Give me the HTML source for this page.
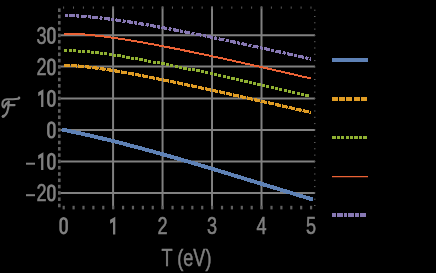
<!DOCTYPE html>
<html><head><meta charset="utf-8"><style>
html,body{margin:0;padding:0;background:#000;}
svg{display:block;}
.txt{will-change:transform;}
text{font-family:"Liberation Sans",sans-serif;font-size:23.5px;fill:#808080;stroke:#808080;stroke-width:0.55px;}
</style></head><body>
<svg width="436" height="273" viewBox="0 0 436 273">
<rect width="436" height="273" fill="#000"/>
<g stroke="#808080" stroke-width="2"><line x1="113.08" y1="6.5" x2="113.08" y2="209" /><line x1="162.55" y1="6.5" x2="162.55" y2="209" /><line x1="212.03" y1="6.5" x2="212.03" y2="209" /><line x1="261.50" y1="6.5" x2="261.50" y2="209" /><line x1="60.2" y1="192.90" x2="315" y2="192.90" /><line x1="60.2" y1="161.40" x2="315" y2="161.40" /><line x1="60.2" y1="129.90" x2="315" y2="129.90" /><line x1="60.2" y1="98.40" x2="315" y2="98.40" /><line x1="60.2" y1="66.50" x2="315" y2="66.50" /><line x1="60.2" y1="35.30" x2="315" y2="35.30" /></g>
<g fill="#5e5e5e"><rect x="62.60" y="205.8" width="2.2" height="3.6" /><rect x="72.50" y="205.8" width="2.2" height="3.6" /><rect x="82.39" y="205.8" width="2.2" height="3.6" /><rect x="92.29" y="205.8" width="2.2" height="3.6" /><rect x="102.18" y="205.8" width="2.2" height="3.6" /><rect x="112.08" y="205.8" width="2.2" height="3.6" /><rect x="121.97" y="205.8" width="2.2" height="3.6" /><rect x="131.87" y="205.8" width="2.2" height="3.6" /><rect x="141.76" y="205.8" width="2.2" height="3.6" /><rect x="151.66" y="205.8" width="2.2" height="3.6" /><rect x="161.55" y="205.8" width="2.2" height="3.6" /><rect x="171.45" y="205.8" width="2.2" height="3.6" /><rect x="181.34" y="205.8" width="2.2" height="3.6" /><rect x="191.24" y="205.8" width="2.2" height="3.6" /><rect x="201.13" y="205.8" width="2.2" height="3.6" /><rect x="211.03" y="205.8" width="2.2" height="3.6" /><rect x="220.92" y="205.8" width="2.2" height="3.6" /><rect x="230.82" y="205.8" width="2.2" height="3.6" /><rect x="240.71" y="205.8" width="2.2" height="3.6" /><rect x="250.61" y="205.8" width="2.2" height="3.6" /><rect x="260.50" y="205.8" width="2.2" height="3.6" /><rect x="270.40" y="205.8" width="2.2" height="3.6" /><rect x="280.29" y="205.8" width="2.2" height="3.6" /><rect x="290.19" y="205.8" width="2.2" height="3.6" /><rect x="300.08" y="205.8" width="2.2" height="3.6" /><rect x="309.98" y="205.8" width="2.2" height="3.6" /><rect x="58" y="203.70" width="2.6" height="3.6" /><rect x="58" y="197.40" width="2.6" height="3.6" /><rect x="58" y="191.10" width="2.6" height="3.6" /><rect x="58" y="184.80" width="2.6" height="3.6" /><rect x="58" y="178.50" width="2.6" height="3.6" /><rect x="58" y="172.20" width="2.6" height="3.6" /><rect x="58" y="165.90" width="2.6" height="3.6" /><rect x="58" y="159.60" width="2.6" height="3.6" /><rect x="58" y="153.30" width="2.6" height="3.6" /><rect x="58" y="147.00" width="2.6" height="3.6" /><rect x="58" y="140.70" width="2.6" height="3.6" /><rect x="58" y="134.40" width="2.6" height="3.6" /><rect x="58" y="128.10" width="2.6" height="3.6" /><rect x="58" y="121.80" width="2.6" height="3.6" /><rect x="58" y="115.50" width="2.6" height="3.6" /><rect x="58" y="109.20" width="2.6" height="3.6" /><rect x="58" y="102.90" width="2.6" height="3.6" /><rect x="58" y="96.60" width="2.6" height="3.6" /><rect x="58" y="90.30" width="2.6" height="3.6" /><rect x="58" y="84.00" width="2.6" height="3.6" /><rect x="58" y="77.70" width="2.6" height="3.6" /><rect x="58" y="71.40" width="2.6" height="3.6" /><rect x="58" y="65.10" width="2.6" height="3.6" /><rect x="58" y="58.80" width="2.6" height="3.6" /><rect x="58" y="52.50" width="2.6" height="3.6" /><rect x="58" y="46.20" width="2.6" height="3.6" /><rect x="58" y="39.90" width="2.6" height="3.6" /><rect x="58" y="33.60" width="2.6" height="3.6" /><rect x="58" y="27.30" width="2.6" height="3.6" /><rect x="58" y="21.00" width="2.6" height="3.6" /><rect x="58" y="14.70" width="2.6" height="3.6" /><rect x="58" y="8.40" width="2.6" height="3.6" /></g>
<g fill="#5a5a5a"><rect x="63.10" y="6.5" width="1" height="2.2" /><rect x="73.00" y="6.5" width="1" height="2.2" /><rect x="82.89" y="6.5" width="1" height="2.2" /><rect x="92.79" y="6.5" width="1" height="2.2" /><rect x="102.68" y="6.5" width="1" height="2.2" /><rect x="112.58" y="6.5" width="1" height="2.2" /><rect x="122.47" y="6.5" width="1" height="2.2" /><rect x="132.37" y="6.5" width="1" height="2.2" /><rect x="142.26" y="6.5" width="1" height="2.2" /><rect x="152.16" y="6.5" width="1" height="2.2" /><rect x="162.05" y="6.5" width="1" height="2.2" /><rect x="171.95" y="6.5" width="1" height="2.2" /><rect x="181.84" y="6.5" width="1" height="2.2" /><rect x="191.74" y="6.5" width="1" height="2.2" /><rect x="201.63" y="6.5" width="1" height="2.2" /><rect x="211.53" y="6.5" width="1" height="2.2" /><rect x="221.42" y="6.5" width="1" height="2.2" /><rect x="231.32" y="6.5" width="1" height="2.2" /><rect x="241.21" y="6.5" width="1" height="2.2" /><rect x="251.11" y="6.5" width="1" height="2.2" /><rect x="261.00" y="6.5" width="1" height="2.2" /><rect x="270.90" y="6.5" width="1" height="2.2" /><rect x="280.79" y="6.5" width="1" height="2.2" /><rect x="290.69" y="6.5" width="1" height="2.2" /><rect x="300.58" y="6.5" width="1" height="2.2" /><rect x="310.48" y="6.5" width="1" height="2.2" /><rect x="314" y="205.00" width="1.5" height="1" /><rect x="314" y="198.70" width="1.5" height="1" /><rect x="314" y="192.40" width="1.5" height="1" /><rect x="314" y="186.10" width="1.5" height="1" /><rect x="314" y="179.80" width="1.5" height="1" /><rect x="314" y="173.50" width="1.5" height="1" /><rect x="314" y="167.20" width="1.5" height="1" /><rect x="314" y="160.90" width="1.5" height="1" /><rect x="314" y="154.60" width="1.5" height="1" /><rect x="314" y="148.30" width="1.5" height="1" /><rect x="314" y="142.00" width="1.5" height="1" /><rect x="314" y="135.70" width="1.5" height="1" /><rect x="314" y="129.40" width="1.5" height="1" /><rect x="314" y="123.10" width="1.5" height="1" /><rect x="314" y="116.80" width="1.5" height="1" /><rect x="314" y="110.50" width="1.5" height="1" /><rect x="314" y="104.20" width="1.5" height="1" /><rect x="314" y="97.90" width="1.5" height="1" /><rect x="314" y="91.60" width="1.5" height="1" /><rect x="314" y="85.30" width="1.5" height="1" /><rect x="314" y="79.00" width="1.5" height="1" /><rect x="314" y="72.70" width="1.5" height="1" /><rect x="314" y="66.40" width="1.5" height="1" /><rect x="314" y="60.10" width="1.5" height="1" /><rect x="314" y="53.80" width="1.5" height="1" /><rect x="314" y="47.50" width="1.5" height="1" /><rect x="314" y="41.20" width="1.5" height="1" /><rect x="314" y="34.90" width="1.5" height="1" /><rect x="314" y="28.60" width="1.5" height="1" /><rect x="314" y="22.30" width="1.5" height="1" /><rect x="314" y="16.00" width="1.5" height="1" /><rect x="314" y="9.70" width="1.5" height="1" /></g>
<g fill="none">
<path d="M63.60,15.53 L64.84,15.54 L66.07,15.55 L67.31,15.57 L68.55,15.59 L69.78,15.62 L71.02,15.66 L72.26,15.70 L73.50,15.75 L74.73,15.81 L75.97,15.87 L77.21,15.93 L78.44,16.00 L79.68,16.08 L80.92,16.16 L82.15,16.25 L83.39,16.34 L84.63,16.43 L85.86,16.53 L87.10,16.63 L88.34,16.74 L89.57,16.85 L90.81,16.96 L92.05,17.08 L93.29,17.20 L94.52,17.33 L95.76,17.45 L97.00,17.59 L98.23,17.72 L99.47,17.86 L100.71,18.00 L101.94,18.14 L103.18,18.29 L104.42,18.44 L105.65,18.59 L106.89,18.74 L108.13,18.90 L109.36,19.06 L110.60,19.22 L111.84,19.39 L113.08,19.56 L114.31,19.72 L115.55,19.90 L116.79,20.07 L118.02,20.25 L119.26,20.42 L120.50,20.60 L121.73,20.78 L122.97,20.97 L124.21,21.15 L125.44,21.34 L126.68,21.53 L127.92,21.72 L129.15,21.91 L130.39,22.11 L131.63,22.30 L132.87,22.50 L134.10,22.70 L135.34,22.90 L136.58,23.10 L137.81,23.31 L139.05,23.51 L140.29,23.72 L141.52,23.93 L142.76,24.13 L144.00,24.34 L145.23,24.56 L146.47,24.77 L147.71,24.98 L148.94,25.20 L150.18,25.42 L151.42,25.63 L152.66,25.85 L153.89,26.07 L155.13,26.29 L156.37,26.52 L157.60,26.74 L158.84,26.96 L160.08,27.19 L161.31,27.42 L162.55,27.64 L163.79,27.87 L165.02,28.10 L166.26,28.33 L167.50,28.56 L168.73,28.79 L169.97,29.03 L171.21,29.26 L172.45,29.50 L173.68,29.73 L174.92,29.97 L176.16,30.20 L177.39,30.44 L178.63,30.68 L179.87,30.92 L181.10,31.16 L182.34,31.40 L183.58,31.64 L184.81,31.89 L186.05,32.13 L187.29,32.37 L188.52,32.62 L189.76,32.86 L191.00,33.11 L192.24,33.35 L193.47,33.60 L194.71,33.85 L195.95,34.10 L197.18,34.35 L198.42,34.60 L199.66,34.85 L200.89,35.10 L202.13,35.35 L203.37,35.60 L204.60,35.85 L205.84,36.10 L207.08,36.36 L208.31,36.61 L209.55,36.87 L210.79,37.12 L212.03,37.38 L213.26,37.63 L214.50,37.89 L215.74,38.15 L216.97,38.40 L218.21,38.66 L219.45,38.92 L220.68,39.18 L221.92,39.44 L223.16,39.70 L224.39,39.96 L225.63,40.22 L226.87,40.48 L228.10,40.74 L229.34,41.00 L230.58,41.27 L231.82,41.53 L233.05,41.79 L234.29,42.06 L235.53,42.32 L236.76,42.58 L238.00,42.85 L239.24,43.11 L240.47,43.38 L241.71,43.64 L242.95,43.91 L244.18,44.18 L245.42,44.44 L246.66,44.71 L247.89,44.98 L249.13,45.25 L250.37,45.51 L251.61,45.78 L252.84,46.05 L254.08,46.32 L255.32,46.59 L256.55,46.86 L257.79,47.13 L259.03,47.40 L260.26,47.67 L261.50,47.94 L262.74,48.21 L263.97,48.48 L265.21,48.76 L266.45,49.03 L267.68,49.30 L268.92,49.57 L270.16,49.84 L271.40,50.12 L272.63,50.39 L273.87,50.66 L275.11,50.94 L276.34,51.21 L277.58,51.49 L278.82,51.76 L280.05,52.04 L281.29,52.31 L282.53,52.59 L283.76,52.86 L285.00,53.14 L286.24,53.41 L287.47,53.69 L288.71,53.97 L289.95,54.24 L291.19,54.52 L292.42,54.80 L293.66,55.08 L294.90,55.35 L296.13,55.63 L297.37,55.91 L298.61,56.19 L299.84,56.47 L301.08,56.74 L302.32,57.02 L303.55,57.30 L304.79,57.58 L306.03,57.86 L307.26,58.14 L308.50,58.42 L309.74,58.70 L310.98,58.98" stroke="#8778b3" stroke-width="3.2" shape-rendering="crispEdges" stroke-dasharray="5.944 1.340 3.030 1.340" stroke-dashoffset="-5.401"/>
<path d="M63.60,33.56 L64.84,33.56 L66.07,33.57 L67.31,33.59 L68.55,33.62 L69.78,33.65 L71.02,33.69 L72.26,33.73 L73.50,33.79 L74.73,33.84 L75.97,33.91 L77.21,33.98 L78.44,34.05 L79.68,34.13 L80.92,34.21 L82.15,34.30 L83.39,34.40 L84.63,34.50 L85.86,34.60 L87.10,34.71 L88.34,34.82 L89.57,34.93 L90.81,35.05 L92.05,35.18 L93.29,35.30 L94.52,35.44 L95.76,35.57 L97.00,35.71 L98.23,35.85 L99.47,35.99 L100.71,36.14 L101.94,36.29 L103.18,36.44 L104.42,36.60 L105.65,36.76 L106.89,36.92 L108.13,37.08 L109.36,37.25 L110.60,37.42 L111.84,37.59 L113.08,37.76 L114.31,37.94 L115.55,38.12 L116.79,38.30 L118.02,38.48 L119.26,38.67 L120.50,38.85 L121.73,39.04 L122.97,39.23 L124.21,39.43 L125.44,39.62 L126.68,39.82 L127.92,40.02 L129.15,40.22 L130.39,40.42 L131.63,40.62 L132.87,40.83 L134.10,41.04 L135.34,41.24 L136.58,41.45 L137.81,41.67 L139.05,41.88 L140.29,42.09 L141.52,42.31 L142.76,42.53 L144.00,42.74 L145.23,42.96 L146.47,43.18 L147.71,43.41 L148.94,43.63 L150.18,43.85 L151.42,44.08 L152.66,44.31 L153.89,44.54 L155.13,44.77 L156.37,45.00 L157.60,45.23 L158.84,45.46 L160.08,45.69 L161.31,45.93 L162.55,46.16 L163.79,46.40 L165.02,46.64 L166.26,46.88 L167.50,47.12 L168.73,47.36 L169.97,47.60 L171.21,47.84 L172.45,48.08 L173.68,48.33 L174.92,48.57 L176.16,48.82 L177.39,49.06 L178.63,49.31 L179.87,49.56 L181.10,49.81 L182.34,50.06 L183.58,50.31 L184.81,50.56 L186.05,50.81 L187.29,51.06 L188.52,51.31 L189.76,51.57 L191.00,51.82 L192.24,52.08 L193.47,52.33 L194.71,52.59 L195.95,52.84 L197.18,53.10 L198.42,53.36 L199.66,53.62 L200.89,53.88 L202.13,54.14 L203.37,54.40 L204.60,54.66 L205.84,54.92 L207.08,55.18 L208.31,55.44 L209.55,55.71 L210.79,55.97 L212.03,56.23 L213.26,56.50 L214.50,56.76 L215.74,57.03 L216.97,57.29 L218.21,57.56 L219.45,57.83 L220.68,58.10 L221.92,58.36 L223.16,58.63 L224.39,58.90 L225.63,59.17 L226.87,59.44 L228.10,59.71 L229.34,59.98 L230.58,60.25 L231.82,60.52 L233.05,60.79 L234.29,61.06 L235.53,61.34 L236.76,61.61 L238.00,61.88 L239.24,62.16 L240.47,62.43 L241.71,62.70 L242.95,62.98 L244.18,63.25 L245.42,63.53 L246.66,63.80 L247.89,64.08 L249.13,64.36 L250.37,64.63 L251.61,64.91 L252.84,65.19 L254.08,65.47 L255.32,65.74 L256.55,66.02 L257.79,66.30 L259.03,66.58 L260.26,66.86 L261.50,67.14 L262.74,67.42 L263.97,67.70 L265.21,67.98 L266.45,68.26 L267.68,68.54 L268.92,68.82 L270.16,69.10 L271.40,69.38 L272.63,69.66 L273.87,69.95 L275.11,70.23 L276.34,70.51 L277.58,70.79 L278.82,71.08 L280.05,71.36 L281.29,71.64 L282.53,71.93 L283.76,72.21 L285.00,72.50 L286.24,72.78 L287.47,73.06 L288.71,73.35 L289.95,73.63 L291.19,73.92 L292.42,74.21 L293.66,74.49 L294.90,74.78 L296.13,75.06 L297.37,75.35 L298.61,75.64 L299.84,75.92 L301.08,76.21 L302.32,76.50 L303.55,76.79 L304.79,77.07 L306.03,77.36 L307.26,77.65 L308.50,77.94 L309.74,78.23 L310.98,78.51" stroke="#eb6235" stroke-width="2" shape-rendering="crispEdges"/>
<g fill="#8fb032" stroke="none" shape-rendering="crispEdges"><rect x="64.25" y="48.94" width="3.2" height="3.0"/><rect x="68.71" y="49.04" width="3.2" height="3.0"/><rect x="73.17" y="49.24" width="3.2" height="3.0"/><rect x="77.62" y="49.52" width="3.2" height="3.0"/><rect x="82.07" y="49.87" width="3.2" height="3.0"/><rect x="86.52" y="50.28" width="3.2" height="3.0"/><rect x="90.96" y="50.75" width="3.2" height="3.0"/><rect x="95.39" y="51.26" width="3.2" height="3.0"/><rect x="99.82" y="51.81" width="3.2" height="3.0"/><rect x="104.24" y="52.40" width="3.2" height="3.0"/><rect x="108.66" y="53.02" width="3.2" height="3.0"/><rect x="113.08" y="53.68" width="3.2" height="3.0"/><rect x="117.49" y="54.36" width="3.2" height="3.0"/><rect x="121.90" y="55.06" width="3.2" height="3.0"/><rect x="126.30" y="55.79" width="3.2" height="3.0"/><rect x="130.70" y="56.54" width="3.2" height="3.0"/><rect x="135.10" y="57.30" width="3.2" height="3.0"/><rect x="139.49" y="58.09" width="3.2" height="3.0"/><rect x="143.88" y="58.88" width="3.2" height="3.0"/><rect x="148.27" y="59.70" width="3.2" height="3.0"/><rect x="152.65" y="60.52" width="3.2" height="3.0"/><rect x="157.04" y="61.36" width="3.2" height="3.0"/><rect x="161.42" y="62.21" width="3.2" height="3.0"/><rect x="165.80" y="63.07" width="3.2" height="3.0"/><rect x="170.18" y="63.94" width="3.2" height="3.0"/><rect x="174.55" y="64.82" width="3.2" height="3.0"/><rect x="178.92" y="65.71" width="3.2" height="3.0"/><rect x="183.30" y="66.61" width="3.2" height="3.0"/><rect x="187.67" y="67.51" width="3.2" height="3.0"/><rect x="192.04" y="68.42" width="3.2" height="3.0"/><rect x="196.40" y="69.34" width="3.2" height="3.0"/><rect x="200.77" y="70.26" width="3.2" height="3.0"/><rect x="205.14" y="71.19" width="3.2" height="3.0"/><rect x="209.50" y="72.13" width="3.2" height="3.0"/><rect x="213.86" y="73.07" width="3.2" height="3.0"/><rect x="218.22" y="74.01" width="3.2" height="3.0"/><rect x="222.59" y="74.96" width="3.2" height="3.0"/><rect x="226.95" y="75.92" width="3.2" height="3.0"/><rect x="231.30" y="76.88" width="3.2" height="3.0"/><rect x="235.66" y="77.84" width="3.2" height="3.0"/><rect x="240.02" y="78.80" width="3.2" height="3.0"/><rect x="244.38" y="79.77" width="3.2" height="3.0"/><rect x="248.73" y="80.75" width="3.2" height="3.0"/><rect x="253.09" y="81.72" width="3.2" height="3.0"/><rect x="257.44" y="82.70" width="3.2" height="3.0"/><rect x="261.79" y="83.68" width="3.2" height="3.0"/><rect x="266.15" y="84.67" width="3.2" height="3.0"/><rect x="270.50" y="85.66" width="3.2" height="3.0"/><rect x="274.85" y="86.65" width="3.2" height="3.0"/><rect x="279.20" y="87.64" width="3.2" height="3.0"/><rect x="283.55" y="88.64" width="3.2" height="3.0"/><rect x="287.90" y="89.63" width="3.2" height="3.0"/><rect x="292.25" y="90.63" width="3.2" height="3.0"/><rect x="296.60" y="91.63" width="3.2" height="3.0"/><rect x="300.95" y="92.64" width="3.2" height="3.0"/><rect x="305.30" y="93.64" width="3.2" height="3.0"/></g>
<path d="M63.60,65.41 L64.84,65.42 L66.07,65.43 L67.31,65.46 L68.55,65.49 L69.78,65.54 L71.02,65.59 L72.26,65.65 L73.50,65.72 L74.73,65.80 L75.97,65.88 L77.21,65.97 L78.44,66.07 L79.68,66.17 L80.92,66.28 L82.15,66.40 L83.39,66.52 L84.63,66.64 L85.86,66.77 L87.10,66.91 L88.34,67.04 L89.57,67.19 L90.81,67.34 L92.05,67.49 L93.29,67.64 L94.52,67.80 L95.76,67.96 L97.00,68.13 L98.23,68.30 L99.47,68.47 L100.71,68.64 L101.94,68.82 L103.18,69.00 L104.42,69.19 L105.65,69.37 L106.89,69.56 L108.13,69.75 L109.36,69.95 L110.60,70.14 L111.84,70.34 L113.08,70.54 L114.31,70.74 L115.55,70.95 L116.79,71.15 L118.02,71.36 L119.26,71.57 L120.50,71.78 L121.73,72.00 L122.97,72.21 L124.21,72.43 L125.44,72.65 L126.68,72.87 L127.92,73.09 L129.15,73.31 L130.39,73.54 L131.63,73.76 L132.87,73.99 L134.10,74.22 L135.34,74.45 L136.58,74.68 L137.81,74.91 L139.05,75.14 L140.29,75.38 L141.52,75.61 L142.76,75.85 L144.00,76.09 L145.23,76.32 L146.47,76.56 L147.71,76.80 L148.94,77.04 L150.18,77.29 L151.42,77.53 L152.66,77.77 L153.89,78.02 L155.13,78.27 L156.37,78.51 L157.60,78.76 L158.84,79.01 L160.08,79.26 L161.31,79.51 L162.55,79.76 L163.79,80.01 L165.02,80.26 L166.26,80.51 L167.50,80.76 L168.73,81.02 L169.97,81.27 L171.21,81.53 L172.45,81.78 L173.68,82.04 L174.92,82.30 L176.16,82.55 L177.39,82.81 L178.63,83.07 L179.87,83.33 L181.10,83.59 L182.34,83.85 L183.58,84.11 L184.81,84.37 L186.05,84.63 L187.29,84.90 L188.52,85.16 L189.76,85.42 L191.00,85.68 L192.24,85.95 L193.47,86.21 L194.71,86.48 L195.95,86.74 L197.18,87.01 L198.42,87.27 L199.66,87.54 L200.89,87.81 L202.13,88.07 L203.37,88.34 L204.60,88.61 L205.84,88.88 L207.08,89.15 L208.31,89.42 L209.55,89.68 L210.79,89.95 L212.03,90.22 L213.26,90.49 L214.50,90.77 L215.74,91.04 L216.97,91.31 L218.21,91.58 L219.45,91.85 L220.68,92.12 L221.92,92.40 L223.16,92.67 L224.39,92.94 L225.63,93.21 L226.87,93.49 L228.10,93.76 L229.34,94.04 L230.58,94.31 L231.82,94.58 L233.05,94.86 L234.29,95.13 L235.53,95.41 L236.76,95.68 L238.00,95.96 L239.24,96.24 L240.47,96.51 L241.71,96.79 L242.95,97.07 L244.18,97.34 L245.42,97.62 L246.66,97.90 L247.89,98.17 L249.13,98.45 L250.37,98.73 L251.61,99.01 L252.84,99.29 L254.08,99.56 L255.32,99.84 L256.55,100.12 L257.79,100.40 L259.03,100.68 L260.26,100.96 L261.50,101.24 L262.74,101.52 L263.97,101.80 L265.21,102.08 L266.45,102.36 L267.68,102.64 L268.92,102.92 L270.16,103.20 L271.40,103.48 L272.63,103.76 L273.87,104.04 L275.11,104.32 L276.34,104.61 L277.58,104.89 L278.82,105.17 L280.05,105.45 L281.29,105.73 L282.53,106.02 L283.76,106.30 L285.00,106.58 L286.24,106.86 L287.47,107.15 L288.71,107.43 L289.95,107.71 L291.19,108.00 L292.42,108.28 L293.66,108.56 L294.90,108.85 L296.13,109.13 L297.37,109.41 L298.61,109.70 L299.84,109.98 L301.08,110.26 L302.32,110.55 L303.55,110.83 L304.79,111.12 L306.03,111.40 L307.26,111.69 L308.50,111.97 L309.74,112.26 L310.98,112.54" stroke="#e09c24" stroke-width="3.2" shape-rendering="crispEdges" stroke-dasharray="6.155 1.002" stroke-dashoffset="-0.300"/>
<path d="M63.60,129.90 L64.84,130.15 L66.07,130.40 L67.31,130.66 L68.55,130.91 L69.78,131.17 L71.02,131.43 L72.26,131.69 L73.50,131.95 L74.73,132.21 L75.97,132.48 L77.21,132.74 L78.44,133.01 L79.68,133.28 L80.92,133.55 L82.15,133.83 L83.39,134.10 L84.63,134.38 L85.86,134.65 L87.10,134.93 L88.34,135.21 L89.57,135.49 L90.81,135.77 L92.05,136.06 L93.29,136.34 L94.52,136.63 L95.76,136.92 L97.00,137.21 L98.23,137.50 L99.47,137.79 L100.71,138.09 L101.94,138.38 L103.18,138.68 L104.42,138.98 L105.65,139.27 L106.89,139.58 L108.13,139.88 L109.36,140.18 L110.60,140.48 L111.84,140.79 L113.08,141.10 L114.31,141.40 L115.55,141.71 L116.79,142.02 L118.02,142.33 L119.26,142.65 L120.50,142.96 L121.73,143.28 L122.97,143.59 L124.21,143.91 L125.44,144.23 L126.68,144.55 L127.92,144.87 L129.15,145.19 L130.39,145.51 L131.63,145.84 L132.87,146.16 L134.10,146.49 L135.34,146.82 L136.58,147.14 L137.81,147.47 L139.05,147.80 L140.29,148.14 L141.52,148.47 L142.76,148.80 L144.00,149.14 L145.23,149.47 L146.47,149.81 L147.71,150.14 L148.94,150.48 L150.18,150.82 L151.42,151.16 L152.66,151.50 L153.89,151.84 L155.13,152.19 L156.37,152.53 L157.60,152.87 L158.84,153.22 L160.08,153.57 L161.31,153.91 L162.55,154.26 L163.79,154.61 L165.02,154.96 L166.26,155.31 L167.50,155.66 L168.73,156.01 L169.97,156.36 L171.21,156.72 L172.45,157.07 L173.68,157.43 L174.92,157.78 L176.16,158.14 L177.39,158.50 L178.63,158.85 L179.87,159.21 L181.10,159.57 L182.34,159.93 L183.58,160.29 L184.81,160.65 L186.05,161.01 L187.29,161.38 L188.52,161.74 L189.76,162.10 L191.00,162.47 L192.24,162.83 L193.47,163.20 L194.71,163.56 L195.95,163.93 L197.18,164.29 L198.42,164.66 L199.66,165.03 L200.89,165.40 L202.13,165.77 L203.37,166.14 L204.60,166.51 L205.84,166.88 L207.08,167.25 L208.31,167.62 L209.55,167.99 L210.79,168.36 L212.03,168.73 L213.26,169.11 L214.50,169.48 L215.74,169.85 L216.97,170.23 L218.21,170.60 L219.45,170.98 L220.68,171.35 L221.92,171.73 L223.16,172.10 L224.39,172.48 L225.63,172.85 L226.87,173.23 L228.10,173.61 L229.34,173.99 L230.58,174.36 L231.82,174.74 L233.05,175.12 L234.29,175.50 L235.53,175.87 L236.76,176.25 L238.00,176.63 L239.24,177.01 L240.47,177.39 L241.71,177.77 L242.95,178.15 L244.18,178.53 L245.42,178.91 L246.66,179.29 L247.89,179.67 L249.13,180.05 L250.37,180.43 L251.61,180.81 L252.84,181.19 L254.08,181.57 L255.32,181.95 L256.55,182.33 L257.79,182.71 L259.03,183.09 L260.26,183.47 L261.50,183.85 L262.74,184.23 L263.97,184.61 L265.21,184.99 L266.45,185.37 L267.68,185.75 L268.92,186.13 L270.16,186.51 L271.40,186.89 L272.63,187.27 L273.87,187.65 L275.11,188.03 L276.34,188.41 L277.58,188.79 L278.82,189.17 L280.05,189.55 L281.29,189.93 L282.53,190.31 L283.76,190.69 L285.00,191.07 L286.24,191.44 L287.47,191.82 L288.71,192.20 L289.95,192.58 L291.19,192.96 L292.42,193.33 L293.66,193.71 L294.90,194.09 L296.13,194.46 L297.37,194.84 L298.61,195.21 L299.84,195.59 L301.08,195.96 L302.32,196.34 L303.55,196.71 L304.79,197.09 L306.03,197.46 L307.26,197.83 L308.50,198.21 L309.74,198.58 L310.98,198.95" stroke="#5e81b5" stroke-width="3.9" stroke-linecap="square" shape-rendering="crispEdges"/>
</g>
<g class="txt" style="opacity:0.999"><rect x="48.33" y="185.43" width="6.15" height="14.95" rx="3.07" ry="3.81" fill="none" stroke="#808080" stroke-width="2.45"/><text transform="translate(46.6,201.31) scale(0.77,1)" text-anchor="end">2</text><rect x="26" y="194.20" width="9" height="2" fill="#808080"/><rect x="48.33" y="153.93" width="6.15" height="14.95" rx="3.07" ry="3.81" fill="none" stroke="#808080" stroke-width="2.45"/><path d="M38.20,155.30 L43.40,152.30 L43.40,169.90 L41.10,169.90 L41.10,157.60 L38.20,159.20 Z" fill="#808080"/><rect x="26" y="162.70" width="9" height="2" fill="#808080"/><rect x="48.33" y="122.43" width="6.15" height="14.95" rx="3.07" ry="3.81" fill="none" stroke="#808080" stroke-width="2.45"/><rect x="48.33" y="90.93" width="6.15" height="14.95" rx="3.07" ry="3.81" fill="none" stroke="#808080" stroke-width="2.45"/><path d="M38.20,92.30 L43.40,89.30 L43.40,106.90 L41.10,106.90 L41.10,94.60 L38.20,96.20 Z" fill="#808080"/><rect x="48.33" y="59.43" width="6.15" height="14.95" rx="3.07" ry="3.81" fill="none" stroke="#808080" stroke-width="2.45"/><text transform="translate(46.6,75.31) scale(0.77,1)" text-anchor="end">2</text><rect x="48.33" y="27.93" width="6.15" height="14.95" rx="3.07" ry="3.81" fill="none" stroke="#808080" stroke-width="2.45"/><text transform="translate(46.6,43.81) scale(0.77,1)" text-anchor="end">3</text><rect x="60.53" y="218.22" width="6.15" height="14.95" rx="3.07" ry="3.81" fill="none" stroke="#808080" stroke-width="2.45"/><path d="M110.10,219.80 L115.30,216.80 L115.30,234.40 L113.00,234.40 L113.00,222.10 L110.10,223.70 Z" fill="#808080"/><text transform="translate(162.55,234) scale(0.77,1)" text-anchor="middle">2</text><text transform="translate(212.03,234) scale(0.77,1)" text-anchor="middle">3</text><text transform="translate(261.50,234) scale(0.77,1)" text-anchor="middle">4</text><text transform="translate(310.98,234) scale(0.77,1)" text-anchor="middle">5</text>
<text transform="translate(186.5,266) scale(0.77,1)" text-anchor="middle">T (eV)</text></g>
<g fill="none" stroke="#808080" stroke-width="2.1" stroke-linecap="round">
<path d="M18.6,98.7 C15,99.1 11,99.3 7,99.3 C4,99.5 2.4,101.8 2.4,104.3 C2.4,106.2 3.2,107.2 4.2,107.4"/>
<path d="M4.8,106.2 C5.6,104.2 7,102.6 8.7,101.6"/>
<path d="M8.2,105.1 H14.6"/>
<path d="M8.8,101.5 C8.7,106 8.3,109 7.2,112 C6.2,114.5 4.6,116 2.8,116.6"/>
</g>
<circle cx="19" cy="97.9" r="1.3" fill="#808080"/>
<circle cx="3.3" cy="116.3" r="1.5" fill="#808080"/>
<g>
<rect x="332" y="58" width="36" height="4" fill="#5e81b5"/>
<rect x="332" y="97" width="6" height="4" fill="#e09c24"/><rect x="339" y="97" width="6" height="4" fill="#e09c24"/><rect x="346" y="97" width="6" height="4" fill="#e09c24"/><rect x="354" y="97" width="6" height="4" fill="#e09c24"/><rect x="361" y="97" width="6" height="4" fill="#e09c24"/>
<rect x="332" y="136" width="4" height="3" fill="#8fb032"/><rect x="337" y="136" width="3" height="3" fill="#8fb032"/><rect x="341" y="136" width="3" height="3" fill="#8fb032"/><rect x="346" y="136" width="3" height="3" fill="#8fb032"/><rect x="350" y="136" width="3" height="3" fill="#8fb032"/><rect x="354" y="136" width="4" height="3" fill="#8fb032"/><rect x="359" y="136" width="3" height="3" fill="#8fb032"/><rect x="363" y="136" width="4" height="3" fill="#8fb032"/>
<rect x="332" y="176" width="36" height="1.25" fill="#eb6235"/>
<rect x="332" y="213" width="4" height="4" fill="#8778b3"/><rect x="337" y="213" width="6" height="4" fill="#8778b3"/><rect x="344" y="213" width="3" height="4" fill="#8778b3"/><rect x="348" y="213" width="6" height="4" fill="#8778b3"/><rect x="355" y="213" width="4" height="4" fill="#8778b3"/><rect x="360" y="213" width="6" height="4" fill="#8778b3"/>
</g>
</svg>
</body></html>
